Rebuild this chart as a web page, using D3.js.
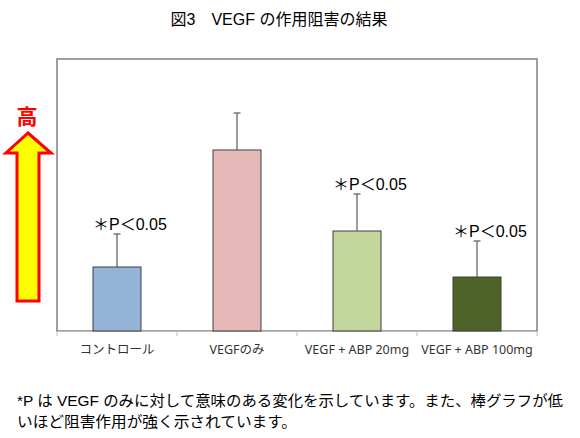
<!DOCTYPE html>
<html><head><meta charset="utf-8">
<script src="https://cdn.jsdelivr.net/npm/d3@7"></script>
<style>
html,body{margin:0;padding:0;background:#fff;}
svg{display:block;}
</style></head>
<body>
<svg id="chart" width="580" height="438"></svg>
<script>
const categories = ["コントロール", "VEGFのみ", "VEGF + ABP 20mg", "VEGF + ABP 100mg"];
const values = [0.64, 1.81, 1.00, 0.54];
const errors = [0.33, 0.37, 0.37, 0.36];
const sigLabels = ["＊P＜0.05", "", "＊P＜0.05", "＊P＜0.05"];
const colors = ["#95B3D7", "#E6B9B8", "#C3D69B", "#4F6228"];
const yDomain = [0, 2.72];
const title = "図3　VEGF の作用阻害の結果";
const arrowLabel = "高";
const footnote = ["*P は VEGF のみに対して意味のある変化を示しています。また、棒グラフが低", "いほど阻害作用が強く示されています。"];

(function () {
const svg = d3.select("#chart");
const jp = "'Liberation Sans','Noto Sans CJK JP',sans-serif";
const pl = 57, pr = 537, pt = 59, pb = 331;

const x = d3.scaleBand().domain(categories).range([pl, pr]).padding(0);
const y = d3.scaleLinear().domain(yDomain).range([pb, pt]);

svg.append("text").attr("x", 279).attr("y", 25).attr("text-anchor", "middle")
  .attr("font-family", jp).attr("font-size", 16).attr("fill", "#000").text(title);

// frame
svg.append("rect").attr("x", pl).attr("y", pt).attr("width", pr - pl).attr("height", pb - pt)
  .attr("fill", "none").attr("stroke", "#808080").attr("stroke-width", 1.5);

// x axis
const xAxis = d3.axisBottom(x).tickSize(0).tickPadding(14);
const gx = svg.append("g").attr("transform", `translate(0,${pb})`).call(xAxis);
gx.select(".domain").attr("stroke", "#bfbfbf").attr("stroke-width", 1);
gx.selectAll("text").attr("font-family", "'Noto Sans','Noto Sans CJK JP',sans-serif").attr("font-size", 12.5).attr("fill", "#333");
const bounds = categories.map(c => x(c)).concat([pr]);
svg.append("g").selectAll("line").data(bounds).join("line")
  .attr("x1", d => d).attr("x2", d => d).attr("y1", pb).attr("y2", pb + 5)
  .attr("stroke", "#bfbfbf").attr("stroke-width", 1);

const bw = x.bandwidth() * 0.4;
const cx = c => x(c) + x.bandwidth() / 2;

// bars
svg.append("g").selectAll("rect").data(categories).join("rect")
  .attr("x", c => cx(c) - bw / 2).attr("width", bw)
  .attr("y", (c, i) => y(values[i])).attr("height", (c, i) => pb - y(values[i]))
  .attr("fill", (c, i) => colors[i]).attr("stroke", "#3f3f3f").attr("stroke-width", 1);

// error bars
const eg = svg.append("g").attr("stroke", "#595959").attr("stroke-width", 1.2);
categories.forEach((c, i) => {
  const yt = y(values[i] + errors[i]);
  eg.append("line").attr("x1", cx(c)).attr("x2", cx(c)).attr("y1", y(values[i])).attr("y2", yt);
  eg.append("line").attr("x1", cx(c) - 3.5).attr("x2", cx(c) + 3.5).attr("y1", yt).attr("y2", yt);
});

// significance labels
svg.append("g").selectAll("text").data(categories).join("text")
  .attr("x", c => cx(c) - 24).attr("y", (c, i) => y(values[i] + errors[i]) - 4)
  .attr("font-family", jp).attr("font-size", 16).attr("fill", "#000")
  .text((c, i) => sigLabels[i]);

// arrow
svg.append("text").attr("x", 27).attr("y", 124).attr("text-anchor", "middle")
  .attr("font-family", "'Noto Sans CJK JP',sans-serif").attr("font-weight", "bold")
  .attr("font-size", 21).attr("fill", "#ff0000").text(arrowLabel);
const arrowPts = [[28,133],[51,153],[39,153],[39,301],[17,301],[17,153],[6,153]];
svg.append("path").attr("d", d3.line()(arrowPts) + "Z")
  .attr("fill", "#ffff00").attr("stroke", "#ff0000").attr("stroke-width", 3).attr("stroke-linejoin", "miter");

// footnote
svg.append("g").selectAll("text").data(footnote).join("text")
  .attr("x", 17).attr("y", (d, i) => 406 + i * 21)
  .attr("font-family", jp).attr("font-size", 15).attr("fill", "#000")
  .attr("textLength", (d, i) => i === 0 ? 546 : 280)
  .attr("lengthAdjust", "spacingAndGlyphs")
  .text(d => d);
})();
</script>
</body></html>
